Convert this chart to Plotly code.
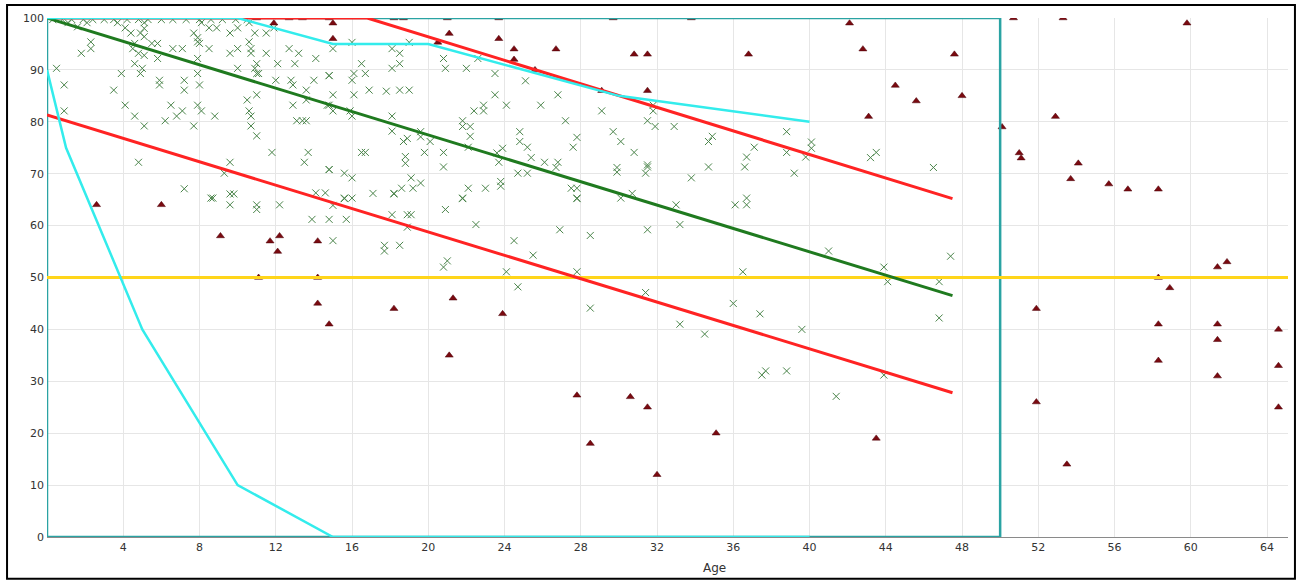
import plotly.graph_objects as go

# ---------------- data ----------------
green_x = [
    0.3, 0.8, 1.3, 1.9, 2.4, 3.0, 3.5, 4.2, 4.8, 5.3, 6.0, 6.6, 7.3, 8.0, 8.6, 9.2, 9.9, 10.5,
    1.1, 1.6, 2.1, 2.3, 2.3, 1.8, 0.5, 0.9, 0.9, 3.7, 4.1, 4.4, 4.9, 5.1, 5.1, 5.1, 4.6, 5.5,
    5.8, 4.5, 4.8, 5.1, 5.8, 4.6, 5.0, 4.9, 3.9, 3.5, 4.1, 4.6, 5.1, 4.8, 5.9, 5.9, 6.5, 7.1,
    6.8, 6.2, 7.2, 7.2, 6.6, 7.1, 7.2, 7.7, 7.9, 7.9, 8.0, 8.5, 7.9, 7.9, 8.0, 7.9, 8.1, 8.8,
    7.7, 8.1, 8.5, 8.9, 9.6, 10.0, 10.6, 10.9, 11.5, 11.9, 9.6, 10.0, 10.6, 10.7, 10.7, 11.0,
    10.9, 10.0, 11.0, 11.1, 11.5, 12.1, 12.7, 13.2, 13.0, 14.1, 12.0, 12.8, 12.9, 14.0, 13.6,
    11.0, 10.5, 10.6, 10.7, 10.7, 11.0, 12.9, 13.6, 13.1, 13.4, 13.6, 14.8, 14.8, 11.8, 13.7,
    13.5, 9.6, 9.3, 9.6, 9.8, 8.6, 14.1, 14.6, 14.8, 8.7, 9.6, 11.0, 11.0, 12.2, 13.9, 14.8,
    16.0, 15.0, 19.0, 18.1, 18.5, 16.5, 18.5, 18.1, 14.8, 16.1, 16.0, 16.7, 16.9, 17.8, 18.5,
    19.0, 15.0, 16.1, 14.7, 15.0, 15.9, 16.0, 18.1, 18.1, 18.7, 18.9, 19.6, 19.6, 20.1, 16.5,
    16.7, 18.8, 18.8, 19.8, 20.8, 20.8, 14.8, 15.6, 16.0, 19.1, 19.6, 18.6, 19.2, 18.2, 17.1,
    15.6, 16.0, 20.8, 20.9, 22.0, 22.6, 23.5, 23.5, 24.1, 22.4, 22.9, 22.9, 25.9, 26.8, 25.1,
    29.1, 27.2, 21.8, 21.8, 22.2, 22.2, 22.1, 24.8, 24.8, 25.2, 23.9, 23.6, 23.7, 25.4, 26.1,
    26.7, 26.8, 24.7, 25.2, 23.8, 23.8, 23.0, 22.1, 21.8, 27.5, 27.8, 27.8, 27.6, 27.8, 29.7,
    30.1, 30.8, 29.9, 29.9, 31.4, 31.5, 30.1, 30.7, 31.5,
    31.8, 31.8, 31.9, 32.9, 34.9, 34.7, 38.8, 37.1, 36.7, 38.8, 39.8, 40.1, 40.1, 43.2, 43.5,
    46.5, 31.5, 34.7, 36.6, 39.2, 33.8, 36.7,
    33.0, 33.2, 31.5, 36.1, 36.7, 41.0, 43.9, 44.1, 46.8, 47.4, 46.8, 36.5, 31.4, 36.0, 37.4,
    33.2, 34.5, 39.6, 37.5, 37.7, 38.8, 43.9, 41.4,
    15.6, 15.0, 18.2, 15.7, 18.1, 18.9, 19.1, 18.9, 15.0, 17.7, 17.7, 18.5, 20.9, 21.8, 22.5,
    21.0, 20.8, 24.5, 25.5, 24.1, 24.7, 26.9, 28.5, 27.8, 28.5, 27.8,
]
green_y = [
    99.7, 99.7, 99.7, 99.7, 99.7, 99.7, 99.7, 99.7, 99.7, 99.7, 99.7, 99.7, 99.7, 99.7, 99.7, 99.7, 99.7, 99.7,
    99.1, 98.3, 99.1, 95.4, 94.1, 93.2, 90.3, 87.1, 82.1, 99.1, 98.1, 97.1, 97.1, 99.1, 98.0, 96.4, 95.1, 95.1,
    95.1, 94.1, 93.2, 92.8, 92.2, 91.2, 90.3, 89.3, 89.3, 86.1, 83.2, 81.1, 79.2, 72.2, 88.0, 87.1, 83.2, 82.1,
    81.1, 80.2, 88.0, 86.1, 94.1, 94.1, 67.1, 97.1, 96.2, 95.4, 95.1, 94.1, 92.2, 89.3, 87.1, 83.2, 82.1, 81.1,
    79.2, 99.1, 98.1, 98.1, 97.1, 98.1, 99.1, 97.1, 97.1, 98.1, 93.2, 94.1, 95.4, 94.1, 93.2, 91.2,
    90.3, 90.3, 89.3, 89.3, 93.2, 91.2, 94.1, 93.2, 91.2, 92.2, 88.0, 88.0, 87.1, 88.0, 86.1,
    85.2, 84.2, 82.1, 81.1, 79.2, 77.3, 83.2, 84.2, 80.2, 80.2, 80.2, 83.2, 88.9, 74.1, 74.1,
    72.2, 72.2, 70.1, 66.1, 66.1, 65.3, 66.3, 66.3, 70.8, 65.3, 64.0, 64.0, 63.1, 64.0, 61.2, 61.2,
    95.3, 94.1, 95.3, 94.1, 93.2, 91.2, 91.2, 90.3, 88.9, 89.3, 88.0, 89.3, 86.1, 85.9, 86.1,
    86.1, 85.2, 85.2, 83.2, 82.1, 82.1, 81.1, 81.1, 78.2, 76.2, 76.8, 77.1, 78.1, 76.2, 74.1,
    74.1, 73.3, 72.0, 74.1, 74.1, 71.3, 70.8, 70.1, 69.2, 69.2, 68.2, 67.2, 67.2, 66.2, 66.2,
    65.3, 65.3, 92.2, 90.3, 90.3, 92.2, 89.3, 85.2, 83.2, 82.1, 83.2, 82.1, 83.2, 85.2, 87.9,
    82.1, 80.2, 80.2, 79.1, 79.1, 77.2, 75.1, 78.1, 76.2, 75.1, 74.9, 74.0, 72.2, 73.1, 72.2,
    71.2, 72.2, 70.1, 70.1, 68.5, 67.6, 67.2, 67.2, 65.3, 67.2, 67.2, 65.3, 75.1, 77.0, 78.1,
    76.2, 74.1, 71.2, 70.3, 70.1, 71.7, 65.3, 66.2, 80.2,
    83.2, 82.1, 79.1, 79.1, 77.2, 76.2, 78.1, 75.1, 73.2, 74.1, 73.2, 76.1, 74.9, 73.1, 74.1,
    71.2, 71.3, 71.3, 71.3, 70.1, 69.2, 65.3,
    64.0, 60.2, 59.2, 64.0, 64.0, 55.1, 52.0, 49.2, 49.2, 54.1, 42.2, 51.1, 47.1, 45.0, 43.0,
    41.0, 39.1, 40.0, 31.2, 32.0, 32.0, 31.2, 27.1,
    65.2, 63.9, 66.1, 61.2, 62.1, 62.1, 62.1, 59.7, 57.1, 56.2, 55.1, 56.2, 63.1, 65.2, 60.2,
    53.2, 52.0, 57.1, 54.3, 51.1, 48.2, 59.2, 58.1, 51.1, 44.1, 65.2,
]

tri_x = [
    2.6, 6.0, 9.1, 11.7, 12.2, 12.1, 11.1, 14.2, 14.2, 14.2, 14.8, 18.2, 21.3, 23.9, 21.1,
    27.8, 28.5, 30.6, 31.5, 32.0, 35.1, 43.5,
    33.8, 42.1, 42.8, 31.5, 36.8, 31.5, 44.5, 45.6, 43.1, 47.6, 48.0,
    11.0, 11.9, 12.7, 13.4, 14.8, 15.0, 15.0, 18.2, 18.7, 21.0, 21.1, 23.7, 23.7, 24.5, 24.5,
    25.6, 26.7, 29.7, 30.8, 29.1, 20.5,
    50.7, 53.3, 59.8, 50.1, 52.9, 51.0, 51.1, 54.1, 53.7, 55.7, 56.7, 58.3,
    58.3, 58.9, 61.4, 61.9, 51.9, 58.3, 61.4, 61.4, 64.6, 58.3, 64.6, 61.4,
    51.9, 53.5, 64.6,
]
tri_y = [
    64, 64, 58, 57, 58, 55, 50, 57, 50, 45, 41, 44, 46, 43, 35,
    27.3, 18, 27, 25, 12, 20, 19,
    100, 99, 94, 93, 93, 86, 87, 84, 81, 93, 85,
    100, 99, 100, 100, 100, 99, 96, 100, 100, 100, 97, 100, 96, 94, 92,
    90, 94, 100, 93, 86, 95.3,
    100, 100, 99, 79, 81, 74, 73, 72, 69, 68, 67, 67,
    50, 48, 52, 53, 44, 41, 41, 38, 40, 34, 33, 31,
    26, 14, 25,
]

fit_x = [0, 47.5]
fit_y = [100, 46.5]
upper_x = [0, 16.8, 47.5]
upper_y = [100, 100, 65.2]
lower_x = [0, 47.5]
lower_y = [81.3, 27.8]
cyan_low_x = [0, 1, 5, 10, 15, 40]
cyan_low_y = [90, 75, 40, 10, 0, 0]
cyan_up_x = [0, 10, 15, 20, 30, 40]
cyan_up_y = [100, 100, 95, 95, 85, 80]
box_x = [0, 50, 50, 0, 0]
box_y = [100, 100, 0, 0, 100]
thresh_x = [0, 65.1]
thresh_y = [50, 50]

x_ticks = [4, 8, 12, 16, 20, 24, 28, 32, 36, 40, 44, 48, 52, 56, 60, 64]
y_ticks = [0, 10, 20, 30, 40, 50, 60, 70, 80, 90, 100]

# ---------------- figure ----------------
fig = go.Figure()

fig.add_trace(go.Scatter(
    x=green_x, y=green_y, mode="markers",
    marker=dict(symbol="x-thin-open", size=7, color="#4A844A",
                line=dict(width=1, color="#4A844A")),
    showlegend=False, hoverinfo="x+y"))

fig.add_trace(go.Scatter(
    x=tri_x, y=tri_y, mode="markers",
    marker=dict(symbol="triangle-up", size=7, color="#7A0A10",
                line=dict(width=0.5, color="#4A0008")),
    showlegend=False, hoverinfo="x+y"))

def line(xs, ys, color, width):
    fig.add_trace(go.Scatter(x=xs, y=ys, mode="lines",
                             line=dict(color=color, width=width),
                             showlegend=False, hoverinfo="skip"))

line(box_x, box_y, "#2AA3A3", 2.5)
line(thresh_x, thresh_y, "#FFD51A", 3)
line(upper_x, upper_y, "#FF2323", 3)
line(lower_x, lower_y, "#FF2323", 3)
line(fit_x, fit_y, "#1F7A1F", 3)
line(cyan_low_x, cyan_low_y, "#33ECEC", 2.5)
line(cyan_up_x, cyan_up_y, "#33ECEC", 2.5)

fig.update_layout(
    width=1302, height=581,
    margin=dict(l=47, r=14, t=16, b=44, pad=0),
    paper_bgcolor="white", plot_bgcolor="white",
    font=dict(family="DejaVu Sans", size=11, color="#333333"),
    xaxis=dict(range=[0, 65.1], tickvals=x_ticks, showgrid=True,
               gridcolor="#E6E6E6", gridwidth=1, zeroline=False,
               showline=True, linecolor="#8A8A8A", linewidth=1,
               ticks="", tickfont=dict(size=11, color="#333333")),
    yaxis=dict(range=[0, 100], tickvals=y_ticks, showgrid=True,
               gridcolor="#E6E6E6", gridwidth=1, zeroline=False,
               showline=False, ticks="", ticklabelstandoff=2,
               tickfont=dict(size=11, color="#333333")),
    shapes=[dict(type="rect", xref="paper", yref="paper",
                 x0=-0.0322, x1=1.0056, y0=-0.0806, y1=1.025,
                 line=dict(color="black", width=2), fillcolor="rgba(0,0,0,0)",
                 layer="above")],
    annotations=[dict(text="Age", xref="paper", yref="paper",
                      x=0.5375, y=-0.0595, showarrow=False,
                      xanchor="center", yanchor="middle",
                      font=dict(size=12, color="#333333"))],
)

fig.write_html(
    "out.html",
    config={"displayModeBar": False},
    post_script="document.body.style.margin='0px';document.body.style.overflow='hidden';",
)
